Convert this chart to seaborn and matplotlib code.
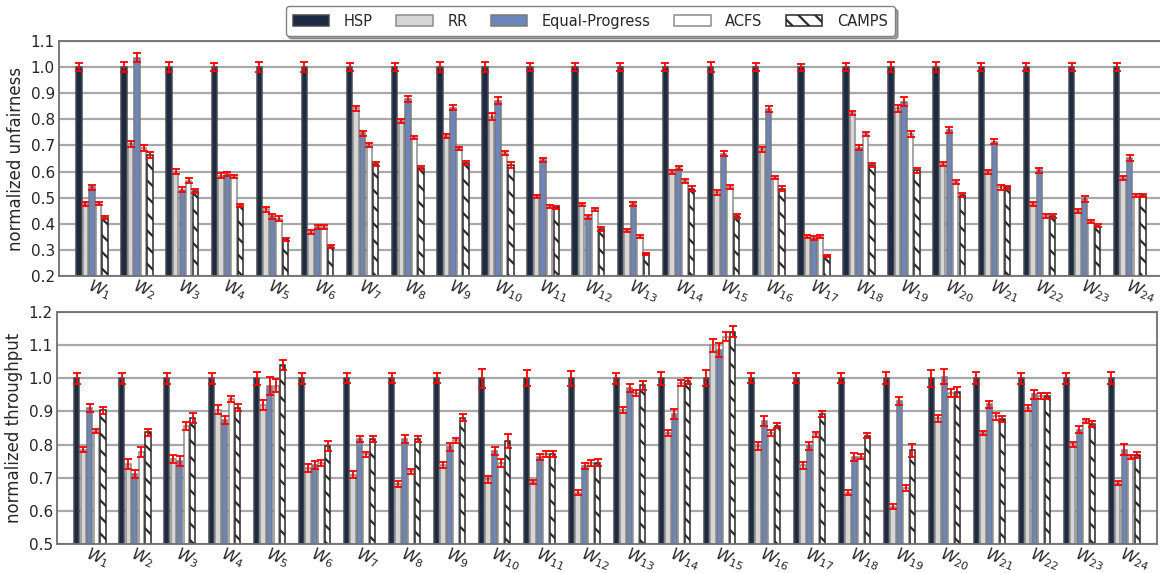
import matplotlib
matplotlib.use("Agg")
import matplotlib.pyplot as plt
import matplotlib.ticker as mticker
import pandas as pd
import seaborn as sns

workloads = ["W1", "W2", "W3", "W4", "W5", "W6", "W7", "W8", "W9", "W10", "W11", "W12",
             "W13", "W14", "W15", "W16", "W17", "W18", "W19", "W20", "W21", "W22", "W23", "W24"]
schemes = ["HSP", "RR", "Equal-Progress", "ACFS", "CAMPS"]
tick_labels = [r"$W_{%d}$" % i for i in range(1, 25)]

# normalized unfairness (lower is better)
unf_hsp = [1.0, 1.0, 1.0, 1.0, 1.0, 1.0, 1.0, 1.0, 1.0, 1.0, 1.0, 1.0,
           1.0, 1.0, 1.0, 1.0, 1.0, 1.0, 1.0, 1.0, 1.0, 1.0, 1.0, 1.0]
unf_rr = [0.477, 0.707, 0.600, 0.585, 0.455, 0.370, 0.843, 0.795, 0.735, 0.810, 0.505, 0.475,
          0.373, 0.600, 0.520, 0.685, 0.350, 0.825, 0.842, 0.628, 0.600, 0.475, 0.450, 0.575]
unf_ep = [0.540, 1.036, 0.530, 0.590, 0.428, 0.387, 0.746, 0.877, 0.845, 0.872, 0.645, 0.425,
          0.475, 0.613, 0.668, 0.840, 0.345, 0.692, 0.868, 0.760, 0.715, 0.605, 0.495, 0.653]
unf_acfs = [0.477, 0.690, 0.565, 0.580, 0.420, 0.387, 0.703, 0.730, 0.690, 0.670, 0.465, 0.455,
            0.350, 0.565, 0.540, 0.577, 0.350, 0.745, 0.745, 0.560, 0.540, 0.430, 0.410, 0.508]
unf_camps = [0.423, 0.664, 0.525, 0.470, 0.340, 0.313, 0.630, 0.613, 0.633, 0.625, 0.463, 0.380,
             0.285, 0.535, 0.430, 0.535, 0.275, 0.625, 0.605, 0.510, 0.540, 0.430, 0.392, 0.508]

unf_hsp_err = [0.016, 0.018, 0.018, 0.016, 0.018, 0.018, 0.016, 0.016, 0.018, 0.020, 0.016, 0.016,
               0.016, 0.016, 0.018, 0.016, 0.014, 0.016, 0.020, 0.018, 0.016, 0.016, 0.016, 0.016]
unf_rr_err = [0.008, 0.012, 0.010, 0.008, 0.008, 0.008, 0.010, 0.008, 0.008, 0.014, 0.006, 0.006,
              0.006, 0.008, 0.008, 0.008, 0.006, 0.008, 0.012, 0.008, 0.008, 0.008, 0.008, 0.008]
unf_ep_err = [0.010, 0.018, 0.010, 0.008, 0.010, 0.008, 0.010, 0.012, 0.010, 0.014, 0.008, 0.008,
              0.008, 0.008, 0.010, 0.012, 0.008, 0.010, 0.016, 0.012, 0.010, 0.010, 0.010, 0.012]
unf_acfs_err = [0.006, 0.010, 0.010, 0.006, 0.008, 0.008, 0.008, 0.006, 0.006, 0.008, 0.006, 0.006,
                0.006, 0.008, 0.008, 0.006, 0.006, 0.008, 0.012, 0.008, 0.010, 0.006, 0.006, 0.006]
unf_camps_err = [0.006, 0.010, 0.008, 0.006, 0.006, 0.006, 0.008, 0.008, 0.008, 0.010, 0.006, 0.006,
                 0.004, 0.008, 0.006, 0.008, 0.004, 0.008, 0.010, 0.008, 0.006, 0.006, 0.006, 0.006]

# normalized throughput (higher is better)
thr_hsp = [1.0, 1.0, 1.0, 1.0, 1.0, 1.0, 1.0, 1.0, 1.0, 1.0, 1.0, 1.0,
           1.0, 1.0, 1.0, 1.0, 1.0, 1.0, 1.0, 1.0, 1.0, 1.0, 1.0, 1.0]
thr_rr = [0.785, 0.741, 0.755, 0.905, 0.919, 0.730, 0.709, 0.681, 0.739, 0.695, 0.687, 0.655,
          0.903, 0.835, 1.099, 0.795, 0.737, 0.655, 0.613, 0.879, 0.835, 0.911, 0.801, 0.685]
thr_ep = [0.909, 0.712, 0.750, 0.873, 0.977, 0.738, 0.817, 0.817, 0.793, 0.781, 0.763, 0.735,
          0.971, 0.893, 1.085, 0.871, 0.797, 0.763, 0.931, 1.005, 0.921, 0.951, 0.845, 0.785]
thr_acfs = [0.841, 0.777, 0.856, 0.937, 0.978, 0.743, 0.770, 0.719, 0.813, 0.743, 0.771, 0.745,
            0.955, 0.987, 1.125, 0.835, 0.831, 0.763, 0.669, 0.955, 0.885, 0.947, 0.871, 0.763]
thr_camps = [0.903, 0.837, 0.879, 0.911, 1.039, 0.795, 0.817, 0.817, 0.881, 0.811, 0.771, 0.745,
             0.979, 0.993, 1.141, 0.857, 0.893, 0.827, 0.783, 0.959, 0.877, 0.947, 0.861, 0.769]

thr_hsp_err = [0.017, 0.017, 0.017, 0.017, 0.020, 0.017, 0.015, 0.015, 0.015, 0.028, 0.024, 0.022,
               0.017, 0.019, 0.024, 0.015, 0.015, 0.015, 0.018, 0.025, 0.018, 0.016, 0.016, 0.018]
thr_rr_err = [0.008, 0.016, 0.012, 0.014, 0.015, 0.012, 0.010, 0.008, 0.009, 0.010, 0.007, 0.007,
              0.009, 0.009, 0.020, 0.012, 0.010, 0.008, 0.008, 0.010, 0.007, 0.009, 0.008, 0.006]
thr_ep_err = [0.012, 0.012, 0.014, 0.012, 0.028, 0.012, 0.010, 0.012, 0.011, 0.012, 0.010, 0.010,
              0.012, 0.015, 0.020, 0.016, 0.012, 0.012, 0.013, 0.022, 0.011, 0.015, 0.010, 0.016]
thr_acfs_err = [0.007, 0.016, 0.012, 0.009, 0.020, 0.009, 0.007, 0.007, 0.007, 0.012, 0.009, 0.009,
                0.009, 0.009, 0.014, 0.009, 0.007, 0.007, 0.010, 0.012, 0.011, 0.010, 0.007, 0.006]
thr_camps_err = [0.010, 0.010, 0.015, 0.010, 0.015, 0.015, 0.009, 0.008, 0.011, 0.020, 0.010, 0.010,
                 0.013, 0.009, 0.018, 0.008, 0.009, 0.007, 0.020, 0.015, 0.008, 0.010, 0.009, 0.009]

colors = {"HSP": "#14294a", "RR": "#d6d6d6", "Equal-Progress": "#5f82c8",
          "ACFS": "#ffffff", "CAMPS": "#ffffff"}
edges = {"HSP": "#4a4a4a", "RR": "#8c8c8c", "Equal-Progress": "#7a7a7a",
         "ACFS": "#8c8c8c", "CAMPS": "#2a2a2a"}
hatches = {"HSP": "", "RR": "", "Equal-Progress": "", "ACFS": "", "CAMPS": "\\\\"}

sns.set_theme(style="white")
plt.rcParams["font.family"] = ["DejaVu Sans"]
plt.rcParams["mathtext.fontset"] = "dejavusans"
plt.rcParams["hatch.linewidth"] = 1.6


def long_frame(series):
    rows = []
    for scheme, vals in zip(schemes, series):
        for w, v in zip(workloads, vals):
            rows.append({"workload": w, "scheme": scheme, "value": v})
    return pd.DataFrame(rows)


def draw_panel(ax, series, errors, ylim, yticks, ylabel):
    df = long_frame(series)
    sns.barplot(data=df, x="workload", y="value", hue="scheme", order=workloads,
                hue_order=schemes, palette=colors, width=0.725, gap=0.17,
                errorbar=None, legend=False, ax=ax, zorder=2)
    bar_sets = list(ax.containers)
    for scheme, cont, errs in zip(schemes, bar_sets, errors):
        xs, ys = [], []
        for bar in cont:
            bar.set_edgecolor(edges[scheme])
            bar.set_linewidth(1.1)
            bar.set_hatch(hatches[scheme])
            xs.append(bar.get_x() + bar.get_width() / 2)
            ys.append(bar.get_height())
        ax.errorbar(xs, ys, yerr=errs, fmt="none", ecolor="#ff0000", elinewidth=1.3,
                    capsize=2.6, capthick=1.3, zorder=6)
    ax.set_ylim(*ylim)
    ax.set_xlim(-0.73, 23.72)
    ax.set_yticks(yticks)
    ax.yaxis.set_major_formatter(mticker.FormatStrFormatter("%.1f"))
    ax.yaxis.grid(True, color="#a8a8a8", linewidth=1.6, zorder=0)
    ax.set_axisbelow(True)
    ax.set_xlabel("")
    ax.set_ylabel(ylabel, fontsize=12, labelpad=4)
    ax.set_xticks(range(len(workloads)))
    ax.set_xticklabels(tick_labels, rotation=-22, ha="left", va="top",
                       rotation_mode="anchor", fontsize=11.5)
    ax.tick_params(axis="x", length=0, pad=0.5)
    ax.tick_params(axis="y", length=0, labelsize=11, pad=3)
    for sp in ax.spines.values():
        sp.set_color("#707070")
        sp.set_linewidth(1.3)
    return [cont.patches[0] for cont in bar_sets]


fig = plt.figure(figsize=(11.6, 5.73), dpi=100)
ax_top = fig.add_axes([0.0509, 0.5183, 0.951, 0.410])
ax_bot = fig.add_axes([0.0491, 0.0506, 0.948, 0.405])

handles = draw_panel(ax_top, [unf_hsp, unf_rr, unf_ep, unf_acfs, unf_camps],
                     [unf_hsp_err, unf_rr_err, unf_ep_err, unf_acfs_err, unf_camps_err],
                     (0.2, 1.1), [0.2, 0.3, 0.4, 0.5, 0.6, 0.7, 0.8, 0.9, 1.0, 1.1],
                     "normalized unfairness")
draw_panel(ax_bot, [thr_hsp, thr_rr, thr_ep, thr_acfs, thr_camps],
           [thr_hsp_err, thr_rr_err, thr_ep_err, thr_acfs_err, thr_camps_err],
           (0.5, 1.2), [0.5, 0.6, 0.7, 0.8, 0.9, 1.0, 1.1, 1.2],
           "normalized throughput")

leg = fig.legend(handles, schemes, loc="center", bbox_to_anchor=(0.509, 0.963),
                 ncol=5, fontsize=10.5, frameon=True, fancybox=True, shadow=True,
                 handlelength=2.5, handleheight=0.8, handletextpad=1.0,
                 columnspacing=1.6, borderpad=0.5, edgecolor="#808080")
leg.get_frame().set_linewidth(1.0)

fig.savefig("out.png", dpi=100)
